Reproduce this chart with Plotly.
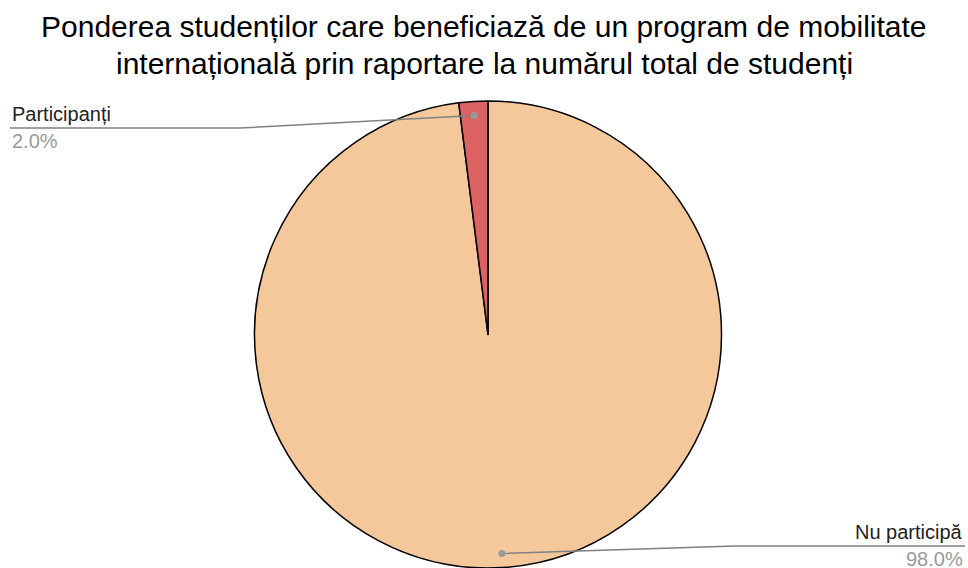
import math
import plotly.graph_objects as go

labels = ["Nu participă", "Participanți"]
values = [98.0, 2.0]
colors = ["#F5C89B", "#DD6363"]

title_lines = [
    "Ponderea studenților care beneficiază de un program de mobilitate",
    "internațională prin raportare la numărul total de studenți",
]

W, H = 968, 568

# pie placement in pixels
cx = 488
top = 101
R = (H - top) / 2
cy = top + R

fig = go.Figure()

fig.add_trace(go.Pie(
    labels=labels,
    values=values,
    marker=dict(colors=colors, line=dict(color="#000000", width=1.5)),
    sort=False,
    direction="clockwise",
    rotation=0,
    textinfo="none",
    showlegend=False,
    domain=dict(x=[(cx - R) / W, (cx + R) / W], y=[0, 1 - top / H]),
))


def px(x):
    return x / W


def py(y):
    return 1 - y / H


# leader lines and labels, dot positions follow the slice mid-angles
total = sum(values)
label_side = {"Nu participă": (735, 546, 965, "right"), "Participanți": (240, 128, 10, "left")}
shapes = []
annotations = []
start = 0.0
for lab, v in zip(labels, values):
    mid = start + v / total * 360 / 2
    start += v / total * 360
    r = 0.94 * R
    dx = cx + r * math.sin(math.radians(mid))
    dy = cy - r * math.cos(math.radians(mid))
    ex, ey, endx, side = label_side[lab]
    shapes.append(dict(
        type="path", xref="paper", yref="paper",
        path=f"M {px(dx)},{py(dy)} L {px(ex)},{py(ey)} L {px(endx)},{py(ey)}",
        line=dict(color="#808080", width=1.5),
    ))
    shapes.append(dict(
        type="circle", xref="paper", yref="paper",
        xsizemode="pixel", ysizemode="pixel",
        xanchor=px(dx), yanchor=py(dy),
        x0=-3.5, x1=3.5, y0=-3.5, y1=3.5,
        fillcolor="#999999", line=dict(width=0),
    ))
    annotations.append(dict(
        x=px(endx), y=py(ey), xref="paper", yref="paper",
        text=lab, showarrow=False, xanchor=side, yanchor="bottom",
        font=dict(size=20, color="#222222"), yshift=1, xshift=0,
    ))
    annotations.append(dict(
        x=px(endx), y=py(ey), xref="paper", yref="paper",
        text=f"{v / total * 100:.1f}%", showarrow=False, xanchor=side, yanchor="top",
        font=dict(size=20, color="#999999"),
    ))

# title as two centred lines
for i, line in enumerate(title_lines):
    annotations.append(dict(
        x=0.5, y=py(26.5 + 37 * i), xref="paper", yref="paper",
        text=line, showarrow=False, xanchor="center", yanchor="middle",
        font=dict(size=30, color="#000000"),
    ))

fig.update_layout(
    font=dict(family="Liberation Sans, Arial, sans-serif"),
    width=W,
    height=H,
    margin=dict(l=0, r=0, t=0, b=0),
    paper_bgcolor="#FFFFFF",
    shapes=shapes,
    annotations=annotations,
)

fig.write_html("out.html", config={"displayModeBar": False},
               post_script="document.body.style.margin = '0';")
